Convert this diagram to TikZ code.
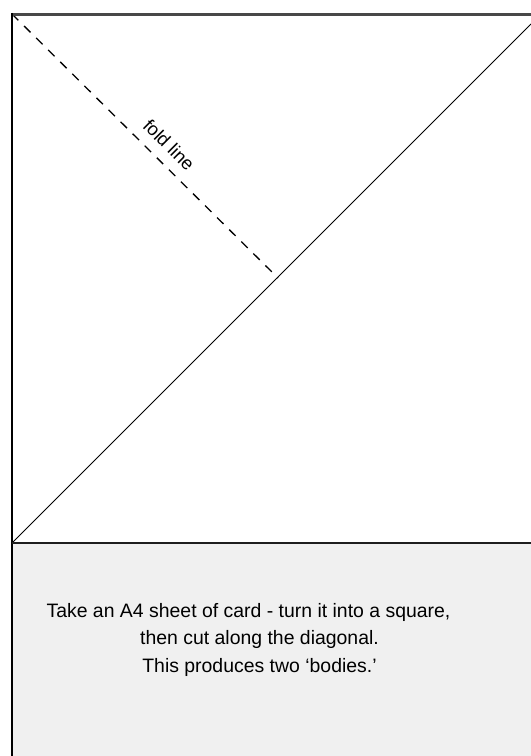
\documentclass[tikz,border=0pt]{standalone}
\usepackage{fontspec}
\setmainfont{Liberation Sans}
\definecolor{panel}{HTML}{F0F0F0}
\definecolor{topedge}{HTML}{484848}
\definecolor{divider}{HTML}{1E1E1E}
\tikzset{
  edge/.style={line width=1.3bp, black},
  cutline/.style={line width=1bp, black},
  foldstyle/.style={line width=1.3bp, black, dash pattern=on 9bp off 8bp},
  bodytext/.style={font=\fontsize{19.5}{23}\selectfont, inner sep=0pt, anchor=base},
  foldtext/.style={font=\fontsize{18.5}{21}\selectfont, inner sep=0pt, rotate=-45}
}
\begin{document}
\begin{tikzpicture}[x=1bp, y=-1bp]
\useasboundingbox (0,0) rectangle (531,756);
% corners
\coordinate (tl) at (12,14.5);
\coordinate (tr) at (531,14.5);
\coordinate (bl) at (12,543);
\coordinate (br) at (531,543);
\coordinate (bot) at (12,756);
\coordinate (diagend) at (531,24);
\coordinate (foldend) at (278,278);
% lower panel
\fill[panel] (bl) rectangle (531,756);
% diagonal cut and fold line
\draw[cutline] (bl) -- (diagend);
\draw[foldstyle] (12,14) -- (foldend);
% frame
\draw[line width=3bp, topedge] (11.4,14.5) -- (tr);
\draw[edge] (12,13) -- (bot);
\draw[line width=2bp, divider] (bl) -- (br);
% labels
\node[foldtext] (fold) at (169,145) {fold line};
\node[bodytext] (t1) at (248.5,617) {Take an A4 sheet of card - turn it into a square,};
\node[bodytext] (t2) at (259.5,644.5) {then cut along the diagonal.};
\node[bodytext] (t3) at (259.5,672) {This produces two ‘bodies.’};
\end{tikzpicture}
\end{document}
